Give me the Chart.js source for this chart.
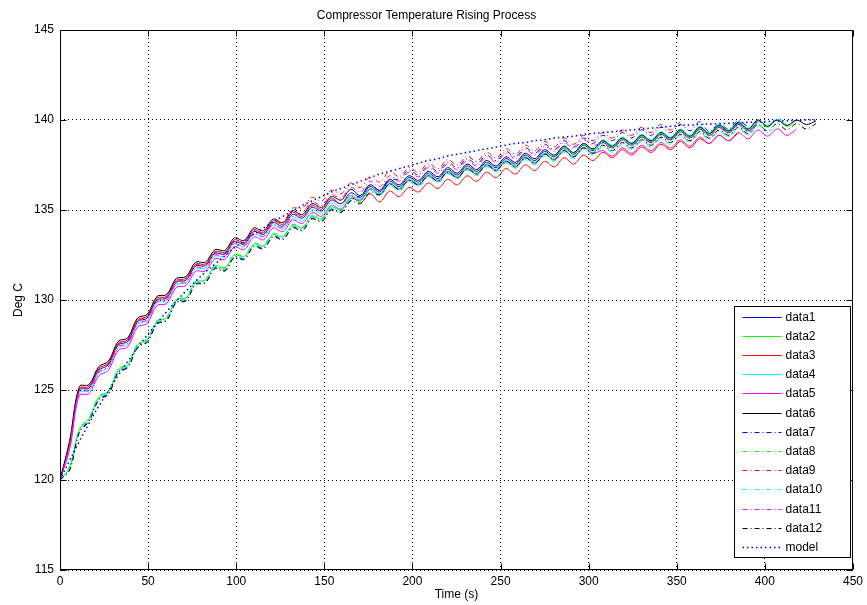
<!DOCTYPE html>
<html lang="en">
<head>
<meta charset="UTF-8">
<title>Compressor Temperature Rising Process</title>
<script src="https://cdn.jsdelivr.net/npm/chart.js@4.4.0/dist/chart.umd.min.js"></script>
<style>
    html, body { margin: 0; padding: 0; background: #fff; }
</style>
</head>
<body>
<canvas id="myChart" width="867" height="605"></canvas>

<script>
// sample times (s), shared by every series
const times = [0,5.5,11,16.5,22,27.5,33,38.5,44,49.5,55,60.5,66,71.5,77,82.5,88,93.5,99,104.5,
    110,115.5,121,126.5,132,137.5,143,148.5,154,159.5,165,170.5,176,181.5,187,192.5,198,203.5,209,214.5,
    220,225.5,231,236.5,242,247.5,253,258.5,264,269.5,275,280.5,286,291.5,297,302.5,308,313.5,319,324.5,
    330,335.5,341,346.5,352,357.5,363,368.5,374,379.5,385,390.5,396,401.5,407,412.5,418,423.5,429];

const xTicks = [0, 450, 50];   // min, max, step
const yTicks = [115, 145, 5];

// temperatures (deg C)
const data1 = [120.0,122.0,125.0,125.1,126.1,126.4,127.5,127.7,128.8,129.0,
    130.0,130.1,131.0,131.1,131.9,131.9,132.6,132.55,133.25,133.1,
    133.8,133.65,134.3,134.1,134.75,134.55,135.15,134.95,135.55,135.35,
    135.95,135.7,136.3,136.0,136.6,136.3,136.8,136.55,137.05,136.75,
    137.25,136.95,137.45,137.15,137.65,137.35,137.85,137.55,138.05,137.75,
    138.25,137.95,138.45,138.1,138.6,138.3,138.75,138.45,138.9,138.6,
    139.05,138.75,139.2,138.9,139.35,139.0,139.5,139.15,139.6,139.3,
    139.75,139.4,139.9];
const data2 = [120.0,120.7,122.8,123.4,124.6,124.9,126.1,126.4,127.5,127.8,
    128.8,129.0,130.0,130.1,131.0,131.1,131.9,131.75,132.5,132.4,
    133.1,133.0,133.65,133.5,134.15,134.0,134.65,134.5,135.15,135.0,
    135.65,135.5,136.15,135.9,136.5,136.2,136.7,136.45,136.95,136.65,
    137.15,136.85,137.35,137.05,137.55,137.25,137.75,137.45,137.95,137.65,
    138.15,138.0,138.5,138.15,138.65,138.35,138.8,138.5,138.95,138.65,
    139.1,138.8,139.25,138.95,139.4,139.05,139.55,139.2,139.65,139.35,
    139.8,139.45,139.95,139.6,140.0,139.65,140.0];
const data3 = [120.0,122.1,125.1,125.2,126.2,126.5,127.6,127.8,128.9,129.1,
    130.1,130.2,131.1,131.2,132.0,132.0,132.7,132.65,133.35,133.2,
    133.9,133.75,134.4,134.2,134.85,134.65,135.25,135.05,135.65,135.35,
    135.8,135.4,135.9,135.45,136.05,135.75,136.25,136.0,136.5,136.2,
    136.7,136.4,136.9,136.6,137.1,136.8,137.3,137.0,137.5,137.2,
    137.7,137.4,137.9,137.55,138.05,137.75,138.2,137.9,138.35,138.05,
    138.5,138.2,138.65,138.35,138.8,138.45,138.95,138.7,139.15,138.85,
    139.3];
const data4 = [120.0,121.85,124.85,124.95,125.95,126.25,127.35,127.55,128.65,128.85,
    129.85,129.95,130.85,130.95,131.75,131.75,132.45,132.4,133.1,132.95,
    133.65,133.5,134.15,133.95,134.6,134.4,135.0,134.8,135.4,135.2,
    135.8,135.6,136.2,135.9,136.5,136.2,136.7,136.45,136.95,136.65,
    137.15,136.85,137.35,137.05,137.55,137.25,137.75,137.45,137.95,137.65,
    138.15,137.85,138.35,138.0,138.5,138.2,138.9,138.6,139.05,138.75,
    139.2,138.9,139.35,139.05,139.5,139.15,139.65,139.3,139.75,139.45,
    139.9,139.55,140.0,139.7,140.05,139.75];
const data5 = [120.0,121.7,124.7,124.8,125.8,126.1,127.2,127.4,128.5,128.7,
    129.7,129.8,130.7,130.8,131.6,131.6,132.3,132.25,132.95,132.8,
    133.5,133.35,134.0,133.8,134.45,134.25,134.85,134.65,135.25,135.05,
    135.65,135.55,136.15,135.85,136.45,136.15,136.65,136.4,136.9,136.6,
    137.1,136.8,137.3,137.0,137.5,137.2,137.7,137.4,137.9,137.6,
    138.1,137.8,138.3,137.95,138.45,138.15,138.3,138.0,138.45,138.15,
    138.6,138.3,138.75,138.45,138.9,138.55,139.05,138.7,139.15,138.85,
    139.3,138.95,139.45,139.1,139.5,139.15,139.5];
const data6 = [120.0,122.2,125.2,125.3,126.3,126.6,127.7,127.9,129.0,129.2,
    130.2,130.3,131.2,131.3,132.1,132.1,132.8,132.75,133.45,133.3,
    134.0,133.85,134.5,134.3,134.95,134.75,135.35,135.15,135.75,135.55,
    136.15,135.8,136.4,136.1,136.7,136.4,136.9,136.65,137.15,136.85,
    137.35,137.05,137.55,137.25,137.75,137.45,137.95,137.65,138.15,137.85,
    138.35,138.05,138.55,138.2,138.7,138.4,138.85,138.55,139.0,138.7,
    139.15,138.85,139.3,139.0,139.45,139.1,139.6,139.25,139.7,139.4,
    139.85,139.5,140.0,139.65,140.0,139.7,140.0,139.75,139.95];
const data7 = [120.0,120.6,122.7,123.3,124.5,124.8,126.0,126.3,127.4,127.7,
    128.7,128.9,129.9,130.0,130.9,131.0,131.8,131.65,132.4,132.3,
    133.0,132.9,133.55,133.4,134.05,133.9,134.55,134.4,135.05,134.9,
    135.55,135.8,136.4,136.1,136.7,136.7,137.2,136.95,137.45,137.15,
    137.65,137.35,137.85,137.55,138.05,137.75,138.25,137.95,138.45,138.15,
    138.65,138.35,138.85,138.5,139.0,138.7,139.15,138.85,139.3,139.0,
    139.45,139.15,139.6,139.3,139.75,139.4,139.9,139.35,139.8,139.5,
    139.95,139.6];
const data8 = [120.0,120.75,122.85,123.45,124.65,124.95,126.15,126.45,127.55,127.85,
    128.85,129.05,130.05,130.15,131.05,131.15,131.95,131.8,132.55,132.45,
    133.15,133.05,133.7,133.55,134.2,134.05,134.7,134.55,135.2,135.05,
    135.7,135.55,136.2,135.8,136.4,136.1,136.6,136.35,136.85,136.55,
    137.05,136.75,137.25,136.95,137.45,137.15,137.65,137.35,137.85,137.55,
    138.05,137.75,138.25,137.9,138.4,138.1,138.55,138.25,138.7,138.4,
    138.85,138.55,139.0,138.7,139.15,138.8,139.3,138.95,139.4,139.1,
    139.55,139.2,139.7,139.35];
const data9 = [120.0,122.05,125.05,125.15,126.15,126.45,127.55,127.75,128.85,129.05,
    130.05,130.15,131.05,131.15,131.95,131.95,132.65,132.6,133.3,133.15,
    133.85,133.7,134.35,134.3,135.1,135.1,135.7,135.5,136.1,135.9,
    136.5,136.25,136.85,136.55,137.15,136.85,137.35,137.1,137.6,137.3,
    137.8,137.5,138.0,137.7,138.2,137.9,138.4,138.1,138.6,138.3,
    138.8,138.5,139.0,138.65,139.15,138.85,139.3,139.0,139.45,139.15,
    139.6,139.3,139.75,139.45,139.9];
const data10 = [120.0,120.65,122.75,123.35,124.55,124.85,126.05,126.35,127.45,127.75,
    128.75,128.95,129.95,130.05,130.95,131.05,131.85,131.7,132.45,132.35,
    133.05,132.95,133.6,133.45,134.1,133.95,134.6,134.45,135.1,134.95,
    135.6,135.45,136.1,135.75,136.35,136.05,136.55,136.3,136.8,136.5,
    137.0,136.7,137.2,136.9,137.4,137.1,137.6,137.3,137.8,137.5,
    138.0,137.7,138.2,137.85,138.35,138.05,138.5,138.2,138.65,138.35,
    138.8,138.5,138.95,138.65,139.1,138.75,139.25,138.9,139.35,139.05,
    139.5,139.15,139.65,139.3,139.7];
const data11 = [120.0,121.9,124.9,125.0,126.0,126.3,127.4,127.6,128.7,128.9,
    129.9,130.0,130.9,131.0,131.8,131.8,132.5,132.45,133.15,133.0,
    133.7,133.55,134.2,134.0,134.65,134.85,135.45,135.25,135.85,135.65,
    136.25,136.0,136.6,136.3,136.9,136.6,137.1,136.85,137.35,137.05,
    137.55,137.25,137.75,137.45,137.95,137.65,138.15,137.85,138.35,138.05,
    138.55,138.25,138.75,138.4,138.9,138.6,138.7,138.4,138.85,138.55,
    139.0,138.7,139.15,138.85,139.3,138.95,139.45,139.1,139.55,139.25,
    139.7,139.35,139.85];
const data12 = [120.0,120.55,122.65,123.25,124.45,124.75,125.95,126.25,127.35,127.65,
    128.65,128.85,129.85,129.95,130.85,130.95,131.75,131.6,132.35,132.25,
    132.95,132.85,133.5,133.35,134.0,133.85,134.5,134.35,135.0,134.85,
    135.5,135.35,136.0,135.85,136.45,136.15,136.65,136.4,136.9,136.6,
    137.1,136.8,137.3,137.0,137.5,137.2,137.7,137.4,137.9,137.6,
    138.1,137.8,138.3,137.95,138.45,138.15,138.6,138.3,138.75,138.45,
    138.9,138.6,139.05,138.75,139.2,138.85,139.35,139.0,139.45,139.15,
    139.6,139.25,139.75,139.4,139.8,139.45,139.8,139.5,139.8];
const model = [120.0,121.1,122.15,123.15,124.1,124.95,125.8,126.6,127.35,128.05,
    128.7,129.35,129.95,130.5,131.05,131.55,132.0,132.45,132.9,133.3,
    133.65,134.0,134.35,134.65,134.95,135.25,135.5,135.75,136.0,136.2,
    136.4,136.6,136.8,137.0,137.15,137.3,137.45,137.6,137.75,137.85,
    138.0,138.1,138.2,138.3,138.4,138.5,138.6,138.7,138.75,138.85,
    138.9,139.0,139.05,139.1,139.2,139.25,139.3,139.35,139.4,139.45,
    139.5,139.55,139.6,139.65,139.7,139.72,139.75,139.78,139.8,139.82,
    139.85,139.87,139.9,139.92,139.94,139.96,139.98,140.0,140.0];

const seriesNames = ['data1','data2','data3','data4','data5','data6',
    'data7','data8','data9','data10','data11','data12','model'];
const seriesValues = [data1, data2, data3, data4, data5, data6,
    data7, data8, data9, data10, data11, data12, model];

// matlab-ish line styles
const lineColors = ['#0000ff','#00ff00','#ff0000','#00ffff','#ff00ff','#000000',
    '#0000ff','#00ff00','#ff0000','#00ffff','#ff00ff','#000000','#0000ff'];
const dashDot = [5, 3, 1, 3];
const lineDashes = [[],[],[],[],[],[], dashDot,dashDot,dashDot,dashDot,dashDot,dashDot, [1.5, 3]];

Chart.defaults.font.family = '"Liberation Sans", Arial, sans-serif';
Chart.defaults.font.size = 12;
Chart.defaults.color = '#000';

const datasets = seriesNames.map((name, i) => ({
    label: name,
    data: seriesValues[i].map((v, j) => ({ x: times[j], y: v })),
    borderColor: lineColors[i],
    borderDash: lineDashes[i],
    borderWidth: i == 12 ? 1.5 : 1,
    pointRadius: 0,
    tension: 0.35,
    fill: false,
    order: seriesNames.length - i   // later series on top, like matlab
}));

// box, inward ticks and the legend inside the axes
const matlabAxes = {
    id: 'matlabAxes',
    afterDraw(chart) {
        const ctx = chart.ctx;
        const a = chart.chartArea;
        const xs = chart.scales.x, ys = chart.scales.y;
        const L = Math.round(a.left) + 0.5, R = Math.round(a.right) - 0.5;
        const T = Math.round(a.top) + 0.5, B = Math.round(a.bottom) - 0.5;
        ctx.save();
        ctx.setLineDash([]);
        ctx.strokeStyle = '#000';
        ctx.lineWidth = 1;
        ctx.strokeRect(L, T, R - L, B - T);

        ctx.beginPath();
        for (let v = xTicks[0]; v <= xTicks[1]; v += xTicks[2]) {
            const px = Math.round(xs.getPixelForValue(v)) + 0.5;
            ctx.moveTo(px, B); ctx.lineTo(px, B - 6);
            ctx.moveTo(px, T); ctx.lineTo(px, T + 6);
        }
        for (let v = yTicks[0]; v <= yTicks[1]; v += yTicks[2]) {
            const py = Math.round(ys.getPixelForValue(v)) + 0.5;
            ctx.moveTo(L, py); ctx.lineTo(L + 6, py);
            ctx.moveTo(R, py); ctx.lineTo(R - 6, py);
        }
        ctx.stroke();

        // legend
        const bw = 116, bh = 251;
        const bx = Math.round(a.right) - 119 + 0.5;
        const by = Math.round(a.bottom) - 264 + 0.5;
        ctx.fillStyle = '#fff';
        ctx.fillRect(bx, by, bw, bh);
        ctx.strokeRect(bx, by, bw, bh);
        ctx.font = '12px "Liberation Sans", Arial, sans-serif';
        ctx.textBaseline = 'middle';
        ctx.textAlign = 'left';
        chart.data.datasets.forEach((ds, i) => {
            const ry = Math.round(by + 10 + i * 19.2) + 0.5;
            ctx.beginPath();
            ctx.strokeStyle = ds.borderColor;
            ctx.lineWidth = ds.borderWidth;
            ctx.setLineDash(ds.borderDash);
            ctx.moveTo(bx + 8, ry);
            ctx.lineTo(bx + 47, ry);
            ctx.stroke();
            ctx.fillStyle = '#000';
            ctx.fillText(ds.label, bx + 51, ry);
        });
        ctx.restore();
    }
};

const ctx = document.getElementById('myChart').getContext('2d');
const myChart = new Chart(ctx, {
    type: 'line',
    data: { datasets: datasets },
    options: {
        responsive: false,
        animation: false,
        devicePixelRatio: 1,
        events: [],
        layout: { padding: { left: 0, right: 14, top: 0, bottom: 0 } },
        scales: {
            x: {
                type: 'linear',
                min: xTicks[0],
                max: xTicks[1],
                ticks: { stepSize: xTicks[2], padding: 4, maxRotation: 0, autoSkip: false, color: '#000' },
                grid: { color: '#000', lineWidth: 1, drawTicks: false },
                border: { display: false, dash: [1, 3] },
                title: { display: true, text: 'Time (s)', color: '#000', padding: { top: 0, bottom: 3 } },
                afterFit: (s) => { s.height = 35; }
            },
            y: {
                min: yTicks[0],
                max: yTicks[1],
                ticks: { stepSize: yTicks[2], padding: 6, color: '#000' },
                grid: { color: '#000', lineWidth: 1, drawTicks: false },
                border: { display: false, dash: [1, 3] },
                title: { display: true, text: 'Deg C', color: '#000', padding: { top: 11, bottom: 0 } },
                afterFit: (s) => { s.width = 60; }
            }
        },
        plugins: {
            legend: { display: false },
            tooltip: { enabled: false },
            title: {
                display: true,
                text: 'Compressor Temperature Rising Process',
                color: '#000',
                font: { size: 12, weight: 'normal' },
                padding: { top: 8, bottom: 7.6 }
            }
        }
    },
    plugins: [matlabAxes]
});
</script>
</body>
</html>
